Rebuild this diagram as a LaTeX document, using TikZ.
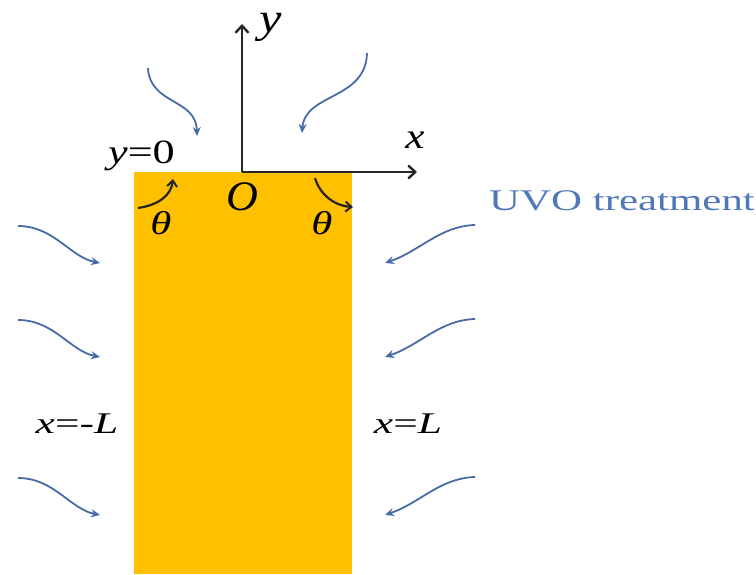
\documentclass[tikz,border=0pt]{standalone}
\usepackage{fontspec}
\setmainfont{Liberation Serif}
\usetikzlibrary{arrows.meta,positioning}
\definecolor{cOrange}{RGB}{255,192,0}
\definecolor{cUV}{RGB}{79,120,185}
\definecolor{cUVarr}{RGB}{72,106,165}
\newcommand{\wide}[2][1.4]{\scalebox{#1}[1]{#2}}
\tikzset{
  lbl/.style={inner sep=0pt,font=\fontsize{30}{30}\selectfont},
  axarr/.style={-{Straight Barb[length=7pt,width=13pt,line width=2.4pt]},line width=2.7pt,color=black!85},
  uvarr/.style={-{Stealth[length=9pt,width=8pt]},line width=1.8pt,color=cUVarr},
  tharr/.style={-{Straight Barb[length=6pt,width=10pt,line width=2pt]},line width=2.2pt,color=black!85}
}
\begin{document}
\begin{tikzpicture}[x=1pt,y=-1pt]
  \useasboundingbox (0,0) rectangle (756,574);
  % sample strip
  \fill[cOrange] (134,172) rectangle (352,574);

  % axes
  \coordinate (O) at (242,172);
  \coordinate (xend) at (417,172);
  \coordinate (yend) at (242,24);
  \draw[axarr] (O) -- (xend);
  \draw[axarr] (O) -- (yend);

  \node[lbl,font=\fontsize{42}{42}\selectfont] (ylab) at (271,27) {\wide[1.2]{\textit{y}}};
  \node[lbl,font=\fontsize{36}{36}\selectfont] (xlab) at (415,140) {\wide[1.2]{\textit{x}}};
  \node[lbl,font=\fontsize{34}{34}\selectfont,anchor=base east] (top) at (175,163)
      {\wide[1.3]{\textit{y}=0}};
  \node[lbl,font=\fontsize{42}{42}\selectfont,anchor=base] (olab) at (242,210) {\wide[1.05]{\textit{O}}};
  \node[lbl,anchor=base] (left) at (77,433) {\wide[1.45]{\textit{x}=-\textit{L}}};
  \node[lbl,anchor=base] (right) at (408,433) {\wide[1.45]{\textit{x}=\textit{L}}};
  \node[lbl,anchor=base west,text=cUV] (uvo) at (489,210) {\wide[1.43]{UVO treatment}};

  % contact angles
  \coordinate (thL0) at (138,208);
  \coordinate (thL1) at (173,179);
  \coordinate (thR0) at (315,178);
  \coordinate (thR1) at (353,207);
  \draw[tharr] (thL0) .. controls (158,205) and (171,196) .. (thL1);
  \draw[tharr] (thR0) .. controls (320,195) and (335,206) .. (thR1);
  \node[lbl,font=\fontsize{33}{33}\selectfont] (thl) at (161,223) {\wide[1.3]{\textit{θ}}};
  \node[lbl,font=\fontsize{33}{33}\selectfont] (thr) at (322,223) {\wide[1.3]{\textit{θ}}};

  % UVO arrows
  \coordinate (uvT1) at (148,68);
  \coordinate (uvTe1) at (197,136);
  \coordinate (uvT2) at (367,53);
  \coordinate (uvTe2) at (302,133);
  \draw[uvarr] (uvT1) .. controls (150,105) and (196,98) .. (uvTe1);
  \draw[uvarr] (uvT2) .. controls (366,100) and (305,93) .. (uvTe2);
  \foreach \yy [count=\i] in {226,320,478}{
    \coordinate (uvL\i) at (18,\yy);
    \coordinate (uvLe\i) at (100,\yy+37);
    \coordinate (uvR\i) at (475,\yy-1);
    \coordinate (uvRe\i) at (385,\yy+37);
    \draw[uvarr] (uvL\i) .. controls +(36,0) and +(-30,-6) .. (uvLe\i);
    \draw[uvarr] (uvR\i) .. controls +(-35,1) and +(35,-12) .. (uvRe\i);
  }
\end{tikzpicture}
\end{document}
